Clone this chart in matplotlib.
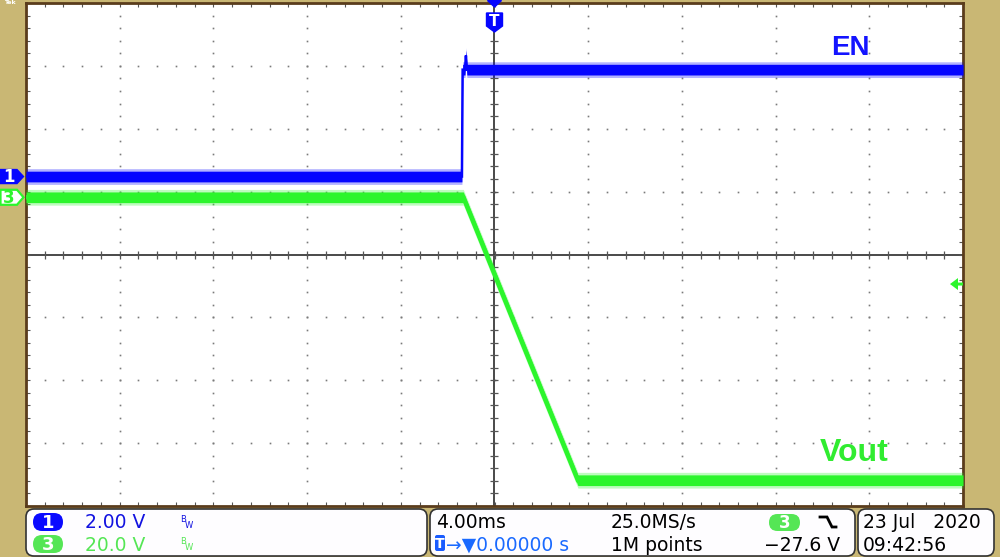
import numpy as np
import matplotlib
matplotlib.use('Agg')
import matplotlib.pyplot as plt
from matplotlib.patches import FancyBboxPatch, Polygon

# scope settings
time_per_div = 4.0      # ms/div, trigger at centre
ch1_scale = 2.0         # V/div (EN)
ch3_scale = 20.0        # V/div (Vout)
ch1_offset = 1.24       # ground marker, div above centre
ch3_offset = 0.91
trig_level = -27.6      # V on CH3

# EN (CH1)
en_t = [-20.0, -1.39, -1.36, -1.26, -1.22, -1.18, 20.0]
en_v = [0.0, 0.0, 3.4, 3.4, 3.85, 3.4, 3.4]

# Vout (CH3)
vout_t = [-20.0, -1.33, 3.56, 20.0]
vout_v = [0.0, 0.0, -90.0, -90.0]

# readouts
ch_scales = ['2.00 V', '20.0 V']
horiz_scale = '4.00ms'
sample_rate = '25.0MS/s'
trig_pos = '\u2192\u25bc0.00000 s'
rec_len = '1M points'
trig_text = '\u221227.6 V'
date_text = '23 Jul   2020'
time_text = '09:42:56'

W, H = 1000, 557
TAN = '#c9b774'
BLUE = '#0505ff'
GREEN = '#2cf52c'

fig = plt.figure(figsize=(10, 5.57), dpi=100)
fig.patch.set_facecolor(TAN)

ax = fig.add_axes([26 / W, 1 - 506 / H, 937 / W, 503 / H])
ax.set_xlim(-5 * time_per_div, 5 * time_per_div)
ax.set_ylim(-4, 4)
ax.set_facecolor('white')
for s in ax.spines.values():
    s.set_color('#5a3c1c')
    s.set_linewidth(2)
ax.set_xticks(np.arange(-20, 20.01, 0.8))
ax.set_yticks(np.arange(-4, 4.01, 0.2))
ax.tick_params(direction='in', length=3, width=0.8, colors='#555555',
               top=True, right=True, labelbottom=False, labelleft=False)

# dotted graticule
ydots = np.arange(-4, 4.01, 0.2)
xdots = np.arange(-20, 20.01, 0.8)
for gx in np.arange(-16, 16.1, 4):
    if abs(gx) > 0.1:
        ax.plot(np.full_like(ydots, gx), ydots, ls='none', marker='s',
                ms=1.2, mew=0, color='#7a7a7a', zorder=1)
for gy in range(-3, 4):
    if gy != 0:
        ax.plot(xdots, np.full_like(xdots, gy), ls='none', marker='s',
                ms=1.2, mew=0, color='#7a7a7a', zorder=1)
# centre axes with minor ticks
ax.axhline(0, color='#3a3a3a', lw=1.3, zorder=1)
ax.axvline(0, color='#3a3a3a', lw=1.3, zorder=1)
ax.plot(xdots, np.zeros_like(xdots), ls='none', marker='|', ms=6,
        mew=0.9, color='#555555', zorder=1)
ax.plot(np.zeros_like(ydots), ydots, ls='none', marker='_', ms=6,
        mew=0.9, color='#555555', zorder=1)


def draw_trace(t, v, scale, offset, color, lw):
    t = np.array(t)
    y = np.array(v) / scale + offset
    ax.fill_between(t, y - 0.125, y + 0.125, color=color, alpha=0.3, lw=0, zorder=3)
    ax.fill_between(t, y - 0.085, y + 0.085, color=color, lw=0, zorder=3)
    ax.plot(t, y, color=color, lw=lw, zorder=3, solid_joinstyle='miter')


draw_trace(vout_t, vout_v, ch3_scale, ch3_offset, GREEN, 3.2)
draw_trace(en_t, en_v, ch1_scale, ch1_offset, BLUE, 1.8)


def to_px(x, y):
    dx, dy = ax.transData.transform((x, y))
    return dx, H - dy


# overlay in pixel coordinates for the scope chrome
ov = fig.add_axes([0, 0, 1, 1], zorder=5)
ov.set_xlim(0, W)
ov.set_ylim(H, 0)
ov.axis('off')

ov.text(4, 0.5, 'Tek', color='white', fontsize=4.5, fontweight='bold',
        va='top', family='DejaVu Sans')

# channel ground markers
_, y1 = to_px(0, ch1_offset)
_, y3 = to_px(0, ch3_offset)
ov.add_patch(Polygon([(0, y1 - 7), (17, y1 - 7), (23.5, y1), (17, y1 + 7), (0, y1 + 7)],
                     closed=True, fc=BLUE, ec=BLUE, lw=1))
ov.text(9, y1 + 0.5, '1', color='white', fontsize=12, fontweight='bold',
        ha='center', va='center')
ov.add_patch(Polygon([(0.5, y3 - 7.5), (17, y3 - 7.5), (23.5, y3), (17, y3 + 7.5), (0.5, y3 + 7.5)],
                     closed=True, fc='white', ec=GREEN, lw=1.6))
ov.text(9, y3 + 0.5, '3', color=GREEN, fontsize=12, fontweight='bold',
        ha='center', va='center')

# trigger position marker
tx, _ = to_px(0, 0)
ov.add_patch(Polygon([(tx - 7, 0.5), (tx + 7, 0.5), (tx, 7)], closed=True, fc=BLUE, ec=BLUE))
ov.add_patch(Polygon([(tx - 8, 13), (tx + 8, 13), (tx + 8, 26), (tx, 32), (tx - 8, 26)],
                     closed=True, fc=BLUE, ec=BLUE, lw=1))
ov.text(tx, 21, 'T', color='white', fontsize=11, fontweight='bold', ha='center', va='center')

# trigger level arrow
_, ty = to_px(0, trig_level / ch3_scale + ch3_offset)
ov.add_patch(Polygon([(950, ty), (958, ty - 6), (958, ty - 1.5), (963, ty - 1.5),
                      (963, ty + 1.5), (958, ty + 1.5), (958, ty + 6)],
                     closed=True, fc=GREEN, ec='none'))

# trace labels
ov.text(831, 55, 'EN', color='#1414ff', fontsize=20, fontweight='bold',
        family='Liberation Sans', va='baseline')
ov.text(820, 461, 'Vout', color='#30ec30', fontsize=23, fontweight='bold',
        family='Liberation Sans', va='baseline')

# readout panels
for x0, x1 in [(26, 427), (430, 855), (858, 994)]:
    ov.add_patch(FancyBboxPatch((x0, 509), x1 - x0, 47,
                                boxstyle='round,pad=0,rounding_size=8',
                                fc='#fefdff', ec='#333333', lw=1.2))

r1, r2 = 528.5, 551
fs = 13.5
# channel badges
for (yb, col, lab, txt_col), txt in zip([(513, '#0a0aff', '1', '#1212e0'),
                                         (535, '#55e655', '3', '#55e655')], ch_scales):
    ov.add_patch(FancyBboxPatch((33, yb), 30, 18, boxstyle='round,pad=0,rounding_size=9',
                                fc=col, ec='none'))
    ov.text(48, yb + 9.5, lab, color='white', fontsize=13, fontweight='bold',
            ha='center', va='center')
    base = r1 if yb == 513 else r2
    ov.text(85, base, txt, color=txt_col, fontsize=fs, va='baseline')
    ov.text(180, base - 7, 'B', color=txt_col, fontsize=6, va='baseline')
    ov.text(185, base - 1, 'W', color=txt_col, fontsize=6, va='baseline')

ov.text(436, r1, horiz_scale, color='black', fontsize=fs, va='baseline')
ov.text(611, r1, sample_rate, color='black', fontsize=fs, va='baseline')
ov.add_patch(FancyBboxPatch((769, 514), 31, 17, boxstyle='round,pad=0,rounding_size=8.5',
                            fc='#55e655', ec='none'))
ov.text(784.5, 523, '3', color='white', fontsize=12, fontweight='bold',
        ha='center', va='center')
ov.plot([820, 827, 832, 836], [517, 517, 527, 527], color='black', lw=2,
        solid_joinstyle='miter')

ov.add_patch(FancyBboxPatch((435, 535), 10, 16, boxstyle='round,pad=0,rounding_size=2',
                            fc='#1a5cff', ec='none'))
ov.text(440, 543.5, 'T', color='white', fontsize=10, fontweight='bold',
        ha='center', va='center')
ov.text(446, r2, trig_pos, color='#1a6aff', fontsize=fs, va='baseline')
ov.text(611, r2, rec_len, color='black', fontsize=fs, va='baseline')
ov.text(764, r2, trig_text, color='black', fontsize=fs, va='baseline')

ov.text(863, r1, date_text, color='black', fontsize=fs, va='baseline')
ov.text(863, r2, time_text, color='black', fontsize=fs, va='baseline')

fig.savefig('out.png', dpi=100, facecolor=fig.get_facecolor())
